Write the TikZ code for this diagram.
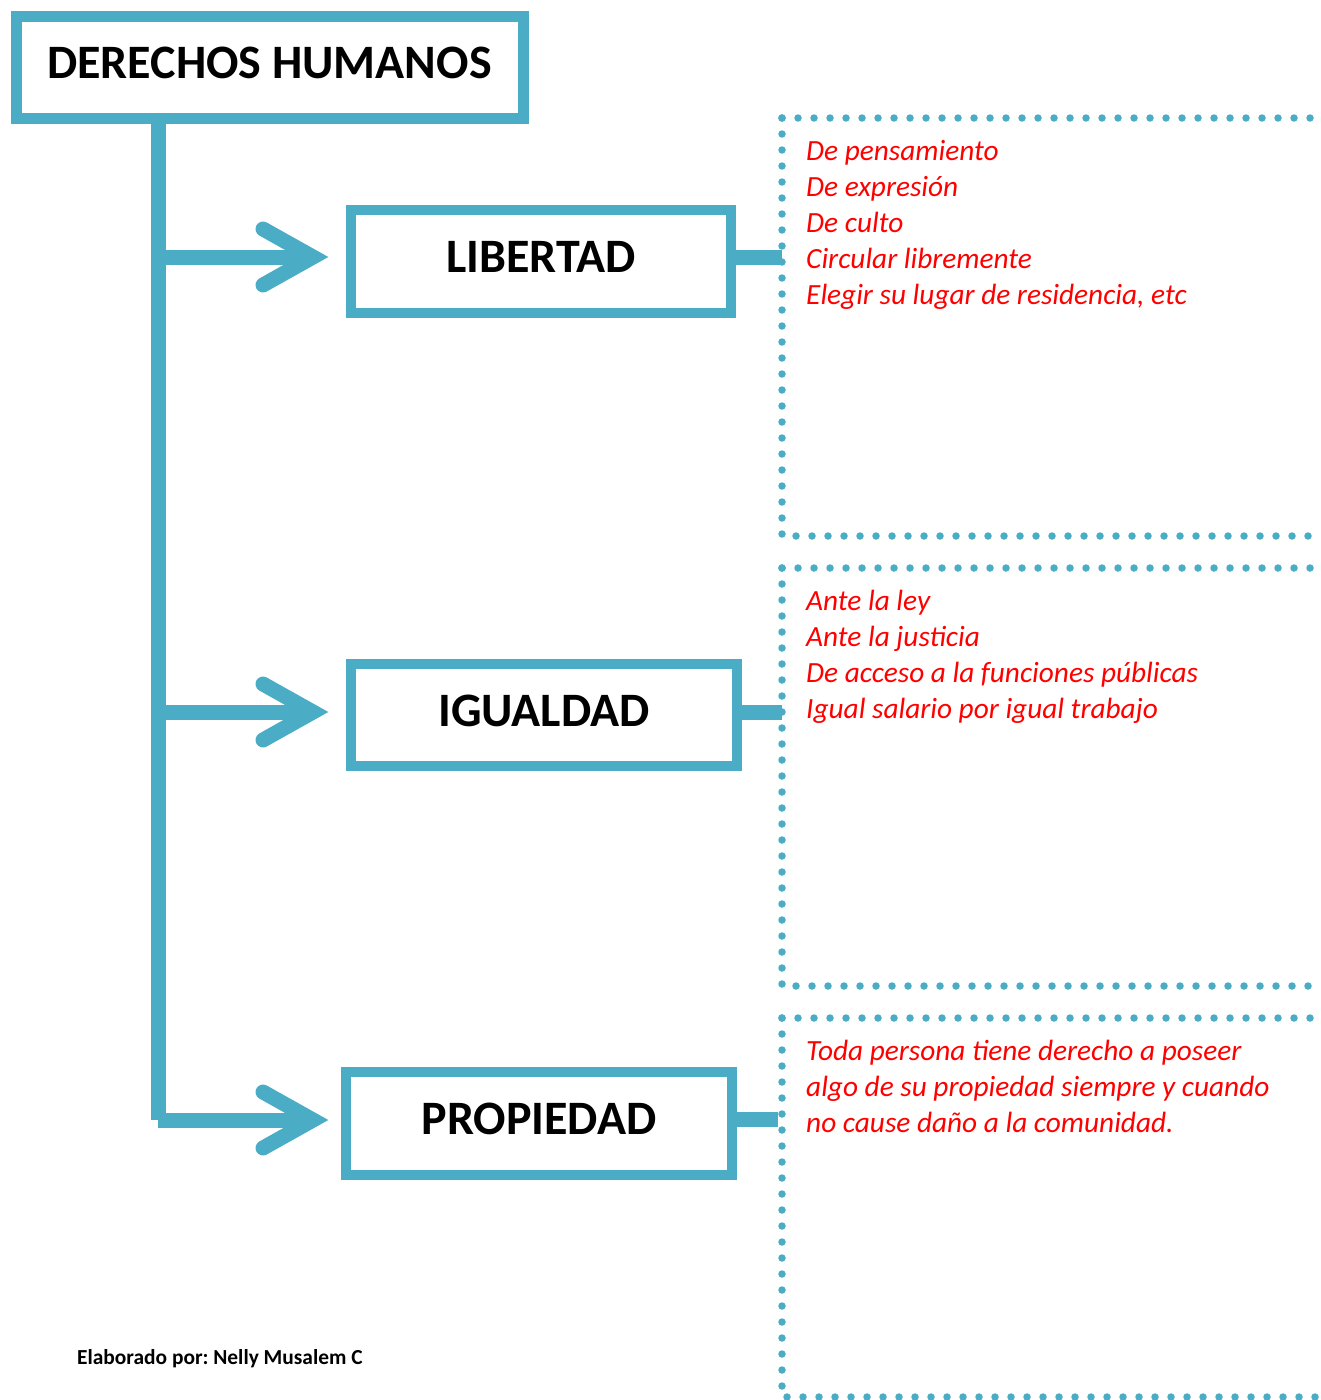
\documentclass[tikz,border=0pt]{standalone}
\usepackage{fontspec}
\setmainfont{Carlito}
\frenchspacing
\definecolor{aqua}{RGB}{75,172,198}
\definecolor{redtxt}{RGB}{255,0,0}
\begin{document}
\begin{tikzpicture}[x=1pt,y=-1pt,
  box/.style={draw=aqua, line width=11pt, fill=white, outer sep=0pt, inner sep=0pt, text height=31pt, text depth=9pt, font=\bfseries\fontsize{48}{56}\selectfont},
  conn/.style={draw=aqua, line width=15pt},
  head/.style={draw=aqua, line width=15pt, line cap=round, miter limit=20},
  dots/.style={draw=aqua, line width=7.5pt, line cap=round, dash pattern=on 0pt off 16pt},
  item/.style={anchor=base west, inner sep=0pt, text=redtxt, font=\itshape\fontsize{29.3}{36}\selectfont}]
\useasboundingbox (0,0) rectangle (1320,1400);
% boxes
\node[box, minimum width=507pt, minimum height=102pt] (title) at (269.5,67) {DERECHOS HUMANOS};
\node[box, line width=10pt, minimum width=380pt, minimum height=103pt] (lib) at (541,261.5) {LIBERTAD};
\node[box, line width=10pt, minimum width=386pt, minimum height=102pt] (igu) at (544,715) {IGUALDAD};
\node[box, line width=10pt, minimum width=386pt, minimum height=103pt] (pro) at (539,1123.5) {PROPIEDAD};
% trunk
\coordinate (ttop) at (158,118);
\coordinate (t1) at (158,257);
\coordinate (t2) at (158,712);
\coordinate (t3) at (158,1120);
\draw[conn] (ttop) -- (t3);
% arrows
\foreach \n/\t in {lib/t1, igu/t2, pro/t3}{
  \coordinate (\n-tip) at (lib.west |- \t);
  \draw[conn] (\t) -- ([xshift=-38pt]\n-tip);
  \draw[head] ([shift={(-88,-28)}]\n-tip) -- ([xshift=-38pt]\n-tip) -- ([shift={(-88,28)}]\n-tip);
}
% dotted brackets
\coordinate (b1) at (782,257);
\coordinate (b2) at (782,712);
\coordinate (b3) at (778,1119);
\draw[conn] (lib.east |- b1) -- (b1);
\draw[conn] (igu.east |- b2) -- (b2);
\draw[conn] (pro.east |- b3) -- (b3);
\draw[dots] (782,118) -- (1322,118);
\draw[dots] (782,118) -- (782,536) -- (1322,536);
\draw[dots] (782,568) -- (1322,568);
\draw[dots] (782,568) -- (782,986) -- (1322,986);
\draw[dots] (782,1018) -- (1322,1018);
\draw[dots] (782,1018) -- (782,1397) -- (1322,1397);
% items
\node[item] (l1) at (806,160) {De pensamiento};
\node[item] (l2) at (806,196) {De expresión};
\node[item] (l3) at (806,232) {De culto};
\node[item] (l4) at (806,268) {Circular libremente};
\node[item] (l5) at (806,304) {Elegir su lugar de residencia, etc};
\node[item] (i1) at (806,610) {Ante la ley};
\node[item] (i2) at (806,646) {Ante la justicia};
\node[item] (i3) at (806,682) {De acceso a la funciones públicas};
\node[item] (i4) at (806,718) {Igual salario por igual trabajo};
\node[item] (p1) at (806,1060) {Toda persona tiene derecho a poseer};
\node[item] (p2) at (806,1096) {algo de su propiedad siempre y cuando};
\node[item] (p3) at (806,1132) {no cause daño a la comunidad.};
% footer
\node[anchor=base west, inner sep=0pt, font=\bfseries\fontsize{21.4}{25}\selectfont] (foot) at (77,1364) {Elaborado por: Nelly Musalem C};
\end{tikzpicture}
\end{document}
